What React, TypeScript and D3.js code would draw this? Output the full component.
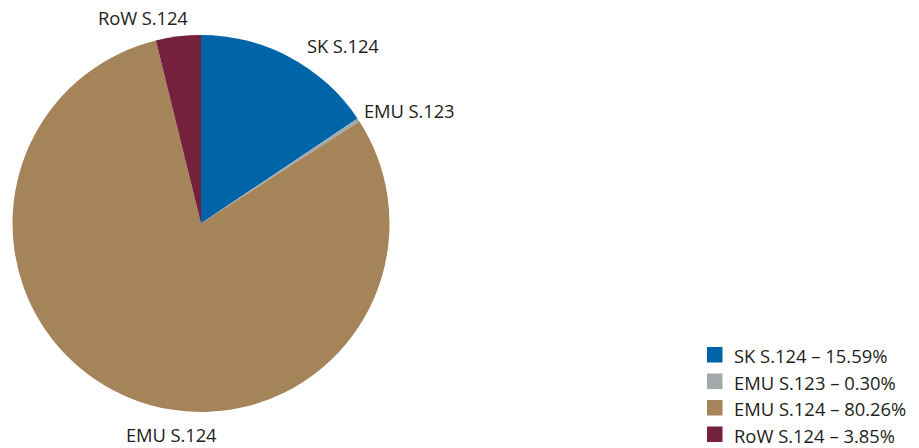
import React from "react";
import * as d3 from "d3";

const categories = ["SK S.124", "EMU S.123", "EMU S.124", "RoW S.124"];
const values = [15.59, 0.3, 80.26, 3.85];
const colors = ["#0065a8", "#a2a9ad", "#a5845a", "#75213d"];
const pctLabels = ["15.59%", "0.30%", "80.26%", "3.85%"];

// label anchor positions (layout)
const labelPos: [number, number][] = [
  [307, 53],
  [364, 118],
  [126, 442],
  [98, 25],
];

const W = 919;
const H = 448;
const cx = 201;
const cy = 223.5;
const R = 188.5;
const FONT = "'Open Sans', sans-serif";
const FS = 18.4;

export default function App() {
  const pie = d3
    .pie<number>()
    .sort(null)
    .value((d) => d);
  const arcs = pie(values);
  const arc = d3.arc<d3.PieArcDatum<number>>().innerRadius(0).outerRadius(R);

  return (
    <svg
      width={W}
      height={H}
      style={{ position: "absolute", left: 0, top: 0, background: "#fff" }}
    >
      <g transform={`translate(${cx},${cy})`}>
        {arcs.map((a, i) => (
          <path key={i} d={arc(a) || ""} fill={colors[i]} />
        ))}
      </g>
      {categories.map((c, i) => (
        <text
          key={c}
          x={labelPos[i][0]}
          y={labelPos[i][1]}
          fontFamily={FONT}
          fontSize={FS}
          letterSpacing={-0.1}
          fill="#231f20"
        >
          {c}
        </text>
      ))}
      <g transform="translate(707,347)">
        {categories.map((c, i) => (
          <g key={c} transform={`translate(0,${i * 26.5})`}>
            <rect width={15.5} height={15.5} fill={colors[i]} />
            <text x={27} y={16} fontFamily={FONT} fontSize={FS} fill="#231f20">
              {`${c} – ${pctLabels[i]}`}
            </text>
          </g>
        ))}
      </g>
    </svg>
  );
}
